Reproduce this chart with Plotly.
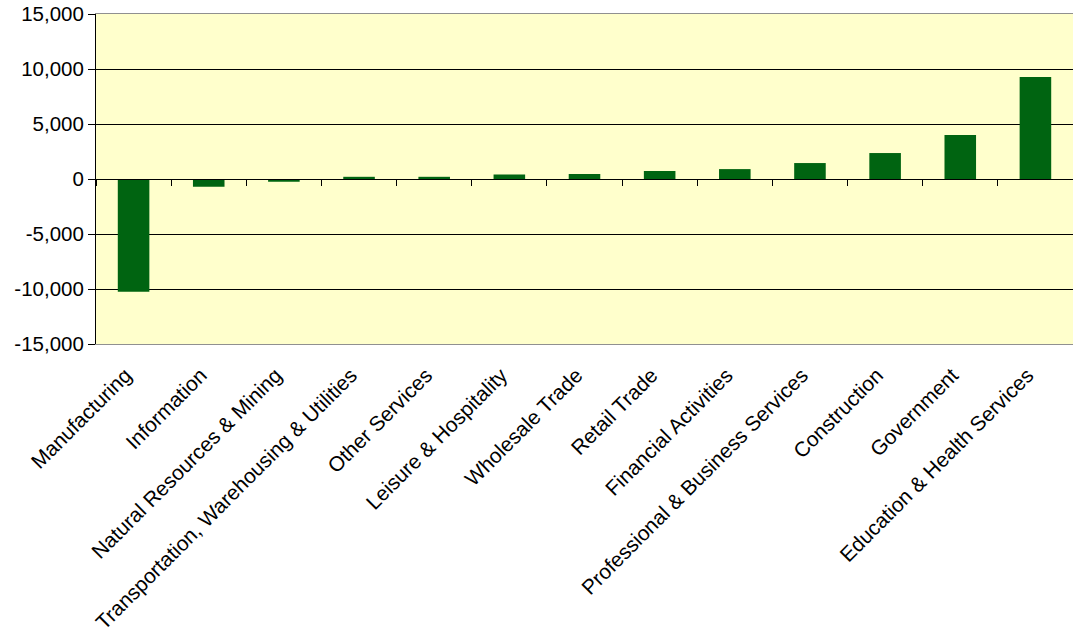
import plotly.graph_objects as go

categories = ["Manufacturing", "Information", "Natural Resources & Mining",
              "Transportation, Warehousing & Utilities", "Other Services",
              "Leisure & Hospitality", "Wholesale Trade", "Retail Trade",
              "Financial Activities", "Professional & Business Services",
              "Construction", "Government", "Education & Health Services"]
values = [-10250, -700, -250, 200, 200, 400, 450, 730, 900, 1450, 2360, 4000, 9270]
y_ticks = [-15000, -10000, -5000, 0, 5000, 10000, 15000]
y_ticktext = ["-15,000", "-10,000", "-5,000", "0", "5,000", "10,000", "15,000"]

FONT = "Liberation Sans, Arial, sans-serif"

fig = go.Figure()
fig.add_trace(go.Bar(x=categories, y=values, marker=dict(color="#006411", line=dict(width=0)),
                     width=0.42, xaxis="x", yaxis="y"))
# invisible trace for the category tick axis drawn on the zero line
fig.add_trace(go.Scatter(x=categories, y=[0]*len(categories), mode="markers",
                         marker=dict(opacity=0), hoverinfo="skip", xaxis="x2", yaxis="y",
                         showlegend=False))

fig.update_layout(
    width=1073, height=633,
    margin=dict(l=96, r=0, t=14, b=289),
    paper_bgcolor="white", plot_bgcolor="#FFFFCC",
    showlegend=False,
    font=dict(family=FONT, color="black", size=20.5),
    xaxis=dict(type="category", categoryorder="array", categoryarray=categories,
               range=[-0.5, len(categories) - 0.5], tickangle=-45,
               showline=True, linecolor="#909090", linewidth=1, mirror=True,
               ticks="", showgrid=False, zeroline=False,
               tickfont=dict(size=20.8, family=FONT), ticklabelstandoff=10,
               ticklabelshift=-8),
    xaxis2=dict(type="category", categoryorder="array", categoryarray=categories,
                range=[-0.5, len(categories) - 0.5], overlaying="x", anchor="free",
                position=0.5, side="bottom", showticklabels=False,
                ticks="outside", tickson="boundaries", ticklen=6, tickcolor="black",
                showline=True, linecolor="black", linewidth=1, showgrid=False, zeroline=False),
    yaxis=dict(range=[-15000, 15000], tickvals=y_ticks, ticktext=y_ticktext,
               showgrid=True, gridcolor="black", gridwidth=1,
               showline=True, linecolor="black", linewidth=1,
               ticks="outside", ticklen=7, tickcolor="black",
               zeroline=False, tickfont=dict(size=20.5, family=FONT)),
    bargap=0.59,
)

fig.write_html("out.html")
